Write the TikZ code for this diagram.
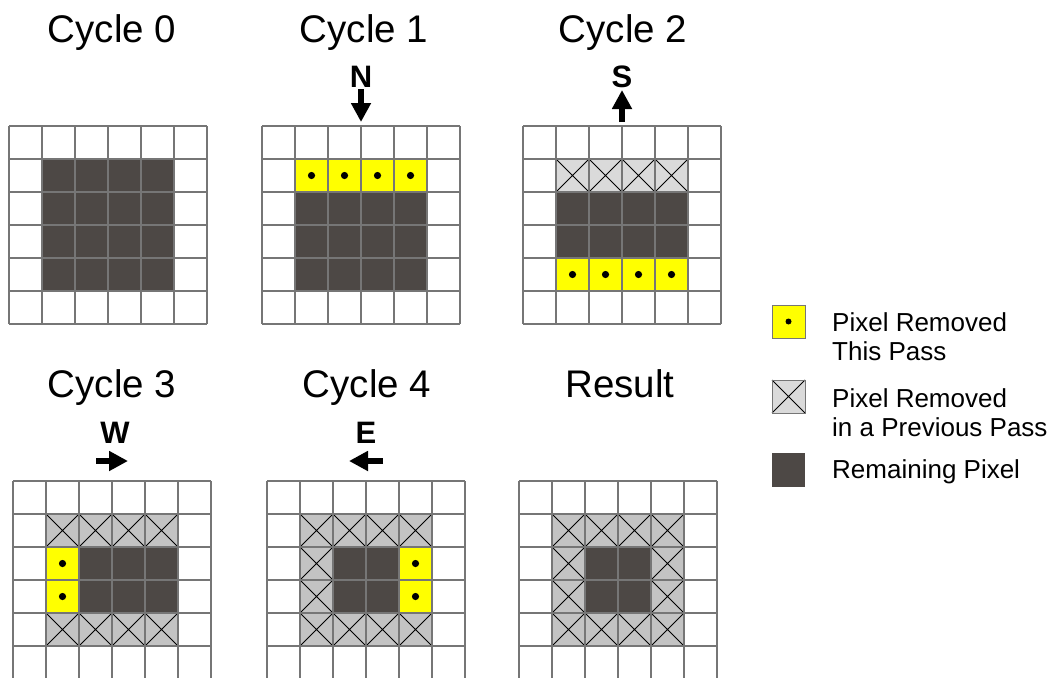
\documentclass[tikz,border=0pt]{standalone}
\usepackage{fontspec}
\setmainfont{Liberation Sans}
\usetikzlibrary{arrows.meta}

\definecolor{remaincol}{HTML}{4D4845}
\definecolor{thiscol}{HTML}{FFFF00}
\definecolor{prevlight}{HTML}{DADADA}
\definecolor{prevcol}{HTML}{C3C3C3}
\definecolor{gridcol}{HTML}{767676}

% one pixel cell is 33 units; (#1,#2) = (column,row) counted from the top left
\newcommand\remcell[2]{\fill[remaincol] (#1*33,#2*33) rectangle ++(33,33);}
\newcommand\thiscell[2]{\fill[thiscol] (#1*33,#2*33) rectangle ++(33,33);
  \fill[black] (#1*33+16.5,#2*33+16.5) circle[radius=3.6pt];}
\newcommand\prevcell[3][prevcol]{\fill[#1] (#2*33,#3*33) rectangle ++(33,33);
  \draw[xmark] (#2*33,#3*33) -- ++(33,33) (#2*33,#3*33+33) -- ++(33,-33);}
\newcommand\pixlines{\foreach \i in {0,...,6}{%
  \draw[gridline] (\i*33,0) -- (\i*33,198);
  \draw[gridline] (0,\i*33) -- (198,\i*33);}}

\tikzset{
  gridline/.style={draw=gridcol, line width=1.2pt},
  xmark/.style={draw=black, line width=0.9pt},
  title/.style={font=\fontsize{38.5}{40}\selectfont, anchor=base, inner sep=0pt},
  dirletter/.style={font=\fontsize{31}{32}\selectfont\bfseries, anchor=base, inner sep=0pt},
  dirarrow/.style={line width=6pt, -{Triangle[width=19pt,length=19pt]}},
  legendtext/.style={font=\fontsize{26}{29}\selectfont, anchor=north west,
    inner sep=0pt, align=left},
  legendbox/.style={draw=gridcol, line width=0.8pt},
}

\begin{document}
\begin{tikzpicture}[x=1pt, y=-1pt]
\useasboundingbox (0,0) rectangle (1054,677);
\clip (0,0) rectangle (1054,677);
\fill[white] (0,0) rectangle (1054,677);

% ---- titles ----
\node[title] (t0) at (112,42) {Cycle 0};
\node[title] (t1) at (364,42) {Cycle 1};
\node[title] (t2) at (623,42) {Cycle 2};
\node[title] (t3) at (112,397) {Cycle 3};
\node[title] (t4) at (367,397) {Cycle 4};
\node[title] (t5) at (620,397) {Result};

% ---- scan directions ----
\node[dirletter] (dN) at (361,87) {N};
\coordinate (nA) at (361,89);  \coordinate (nB) at (361,122);
\draw[dirarrow] (nA) -- (nB);

\node[dirletter] (dS) at (622,87) {S};
\coordinate (sA) at (622,122); \coordinate (sB) at (622,90);
\draw[dirarrow] (sA) -- (sB);

\node[dirletter] (dW) at (115,443) {W};
\coordinate (wA) at (96,461);  \coordinate (wB) at (128,461);
\draw[dirarrow] (wA) -- (wB);

\node[dirletter] (dE) at (366,443) {E};
\coordinate (eA) at (383,461); \coordinate (eB) at (349,461);
\draw[dirarrow] (eA) -- (eB);

% ---- cycle 0 ----
\begin{scope}[shift={(9,126)}]
  \foreach \c in {1,...,4}{\foreach \r in {1,...,4}{\remcell{\c}{\r}}}
  \pixlines
\end{scope}

% ---- cycle 1 ----
\begin{scope}[shift={(262,126)}]
  \foreach \c in {1,...,4}{\thiscell{\c}{1}
    \foreach \r in {2,...,4}{\remcell{\c}{\r}}}
  \pixlines
\end{scope}

% ---- cycle 2 ----
\begin{scope}[shift={(523,126)}]
  \foreach \c in {1,...,4}{\prevcell[prevlight]{\c}{1}
    \remcell{\c}{2}\remcell{\c}{3}\thiscell{\c}{4}}
  \pixlines
\end{scope}

% ---- cycle 3 ----
\begin{scope}[shift={(13,481)}]
  \foreach \c in {1,...,4}{\prevcell{\c}{1}\prevcell{\c}{4}}
  \thiscell{1}{2}\thiscell{1}{3}
  \foreach \c in {2,...,4}{\remcell{\c}{2}\remcell{\c}{3}}
  \pixlines
\end{scope}

% ---- cycle 4 ----
\begin{scope}[shift={(267,481)}]
  \foreach \c in {1,...,4}{\prevcell{\c}{1}\prevcell{\c}{4}}
  \prevcell{1}{2}\prevcell{1}{3}
  \foreach \c in {2,3}{\remcell{\c}{2}\remcell{\c}{3}}
  \thiscell{4}{2}\thiscell{4}{3}
  \pixlines
\end{scope}

% ---- result ----
\begin{scope}[shift={(519,481)}]
  \foreach \c in {1,...,4}{\prevcell{\c}{1}\prevcell{\c}{4}}
  \prevcell{1}{2}\prevcell{1}{3}\prevcell{4}{2}\prevcell{4}{3}
  \foreach \c in {2,3}{\remcell{\c}{2}\remcell{\c}{3}}
  \pixlines
\end{scope}

% ---- legend ----
\fill[thiscol] (772,305) rectangle (805,338);
\draw[legendbox] (772,305) rectangle (805,338);
\fill[black] (788.5,321.5) circle[radius=3pt];
\node[legendtext] (l1) at (832,312.5) {Pixel Removed\\This Pass};

\fill[prevlight] (772,380) rectangle (805,413);
\draw[xmark] (772,380) -- (805,413) (772,413) -- (805,380);
\draw[legendbox] (772,380) rectangle (805,413);
\node[legendtext] (l2) at (832,388.5) {Pixel Removed\\in a Previous Pass};

\fill[remaincol] (772,453) rectangle (805,487);
\node[legendtext] (l3) at (832,459.5) {Remaining Pixel};
\end{tikzpicture}
\end{document}
